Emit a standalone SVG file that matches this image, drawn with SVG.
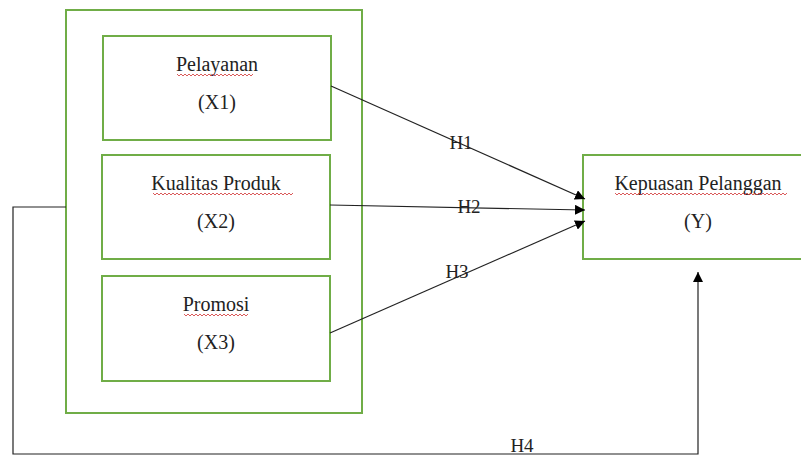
<svg xmlns="http://www.w3.org/2000/svg" width="801" height="456" viewBox="0 0 801 456">
<defs>
<style>
.box{fill:none;stroke:#70ad47;stroke-width:2}
.t{font-family:"Liberation Serif","Times New Roman",serif;font-size:20px;fill:#222;text-anchor:middle}
.h{font-family:"Liberation Serif","Times New Roman",serif;font-size:19px;fill:#222;text-anchor:middle}
.c{fill:none;stroke:#222;stroke-width:1.2}
.sq{fill:none;stroke:#d03030;stroke-width:0.8}
</style>
<marker id="ah" viewBox="0 0 10 10" refX="10" refY="5" markerWidth="10" markerHeight="10" markerUnits="userSpaceOnUse" orient="auto">
<path d="M0,0 L10,5 L0,10 Z" fill="#000"/>
</marker>
</defs>
<rect width="801" height="456" fill="#fff"/>
<g id="outer"><rect class="box" x="66" y="10" width="296" height="403"/></g>
<g id="x1">
<rect class="box" x="103" y="36" width="228" height="104"/>
<text class="t" x="217" y="71">Pelayanan</text>
<text class="t" x="217" y="109">(X1)</text>
</g>
<g id="x2">
<rect class="box" x="102" y="155" width="228" height="104"/>
<text class="t" x="216" y="190">Kualitas Produk</text>
<text class="t" x="216" y="228">(X2)</text>
</g>
<g id="x3">
<rect class="box" x="102" y="276" width="228" height="105"/>
<text class="t" x="216" y="311">Promosi</text>
<text class="t" x="216" y="349">(X3)</text>
</g>
<g id="y">
<rect class="box" x="583" y="155" width="230" height="104"/>
<text class="t" x="698" y="190">Kepuasan Pelanggan</text>
<text class="t" x="698" y="228">(Y)</text>
</g>
<g id="squiggles">
<path class="sq" d="M177,74 l2,2 l2,-2 l2,2 l2,-2 l2,2 l2,-2 l2,2 l2,-2 l2,2 l2,-2 l2,2 l2,-2 l2,2 l2,-2 l2,2 l2,-2 l2,2 l2,-2 l2,2 l2,-2 l2,2 l2,-2 l2,2 l2,-2 l2,2 l2,-2 l2,2 l2,-2 l2,2 l2,-2 l2,2 l2,-2 l2,2 l2,-2 l2,2 l2,-2 l2,2 l2,-2"/>
<path class="sq" d="M153,193 l2,2 l2,-2 l2,2 l2,-2 l2,2 l2,-2 l2,2 l2,-2 l2,2 l2,-2 l2,2 l2,-2 l2,2 l2,-2 l2,2 l2,-2 l2,2 l2,-2 l2,2 l2,-2 l2,2 l2,-2 l2,2 l2,-2 l2,2 l2,-2 l2,2 l2,-2 l2,2 l2,-2 l2,2 l2,-2 l2,2 l2,-2 l2,2 l2,-2 l2,2 l2,-2 l2,2 l2,-2 l2,2 l2,-2 l2,2 l2,-2 l2,2 l2,-2 l2,2 l2,-2 l2,2 l2,-2 l2,2 l2,-2 l2,2 l2,-2 l2,2 l2,-2 l2,2 l2,-2 l2,2 l2,-2 l2,2 l2,-2 l2,2 l2,-2 l2,2 l2,-2 l2,2 l2,-2 l2,2 l2,-2"/>
<path class="sq" d="M184,314 l2,2 l2,-2 l2,2 l2,-2 l2,2 l2,-2 l2,2 l2,-2 l2,2 l2,-2 l2,2 l2,-2 l2,2 l2,-2 l2,2 l2,-2 l2,2 l2,-2 l2,2 l2,-2 l2,2 l2,-2 l2,2 l2,-2 l2,2 l2,-2 l2,2 l2,-2 l2,2 l2,-2 l2,2 l2,-2"/>
<path class="sq" d="M615,193 l2,2 l2,-2 l2,2 l2,-2 l2,2 l2,-2 l2,2 l2,-2 l2,2 l2,-2 l2,2 l2,-2 l2,2 l2,-2 l2,2 l2,-2 l2,2 l2,-2 l2,2 l2,-2 l2,2 l2,-2 l2,2 l2,-2 l2,2 l2,-2 l2,2 l2,-2 l2,2 l2,-2 l2,2 l2,-2 l2,2 l2,-2 l2,2 l2,-2 l2,2 l2,-2 l2,2 l2,-2 l2,2 l2,-2 l2,2 l2,-2 l2,2 l2,-2 l2,2 l2,-2 l2,2 l2,-2 l2,2 l2,-2 l2,2 l2,-2 l2,2 l2,-2 l2,2 l2,-2 l2,2 l2,-2 l2,2 l2,-2 l2,2 l2,-2 l2,2 l2,-2 l2,2 l2,-2 l2,2 l2,-2 l2,2 l2,-2 l2,2 l2,-2 l2,2 l2,-2 l2,2 l2,-2 l2,2 l2,-2 l2,2 l2,-2 l2,2 l2,-2 l2,2 l2,-2"/>
</g>
<g id="connectors">
<line class="c" x1="331" y1="86" x2="585" y2="199" marker-end="url(#ah)"/>
<line class="c" x1="330" y1="205" x2="585" y2="210" marker-end="url(#ah)"/>
<line class="c" x1="330" y1="333" x2="585" y2="221" marker-end="url(#ah)"/>
<polyline class="c" points="66,207 13,207 13,454 698,454 698,272" marker-end="url(#ah)"/>
<text class="h" x="461" y="149">H1</text>
<text class="h" x="469" y="213">H2</text>
<text class="h" x="457" y="278">H3</text>
<text class="h" x="522" y="452">H4</text>
</g>
</svg>
